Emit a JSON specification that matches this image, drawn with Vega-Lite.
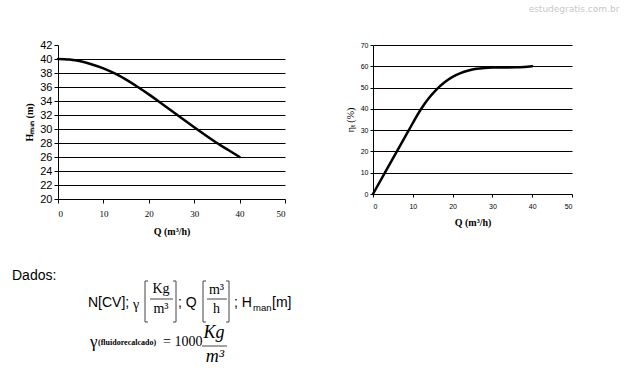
{
  "$schema": "https://vega.github.io/schema/vega-lite/v6.json",
  "background": "white",
  "padding": {"left": 12, "top": 5, "right": 0, "bottom": 0},
  "bounds": "flush",
  "spacing": 88,
  "config": {
    "view": {"stroke": null},
    "axis": {"domainColor": "black", "tickColor": "black", "labelColor": "black", "titleColor": "black", "gridColor": "black", "domainWidth": 1, "tickWidth": 1, "gridWidth": 1}
  },
  "hconcat": [
    {
      "width": 227,
      "height": 154,
      "layer": [
        {
          "data": {"values": [
            {"Q": 0, "H": 40}, {"Q": 2.5, "H": 39.92}, {"Q": 5, "H": 39.67}, {"Q": 7.5, "H": 39.22},
            {"Q": 10, "H": 38.67}, {"Q": 12.5, "H": 37.93}, {"Q": 15, "H": 37.05}, {"Q": 17.5, "H": 36.04},
            {"Q": 20, "H": 34.95}, {"Q": 22.5, "H": 33.8}, {"Q": 25, "H": 32.62}, {"Q": 27.5, "H": 31.43},
            {"Q": 30, "H": 30.25}, {"Q": 32.5, "H": 29.1}, {"Q": 35, "H": 28.0}, {"Q": 37.5, "H": 27.0},
            {"Q": 40, "H": 26}
          ]},
          "mark": {"type": "line", "color": "black", "strokeWidth": 2.5, "interpolate": "natural", "strokeCap": "round"},
          "encoding": {
            "x": {"field": "Q", "type": "quantitative", "scale": {"domain": [0, 50], "nice": false},
              "axis": {"values": [0, 10, 20, 30, 40, 50], "title": "Q (m³/h)", "titleFont": "Liberation Serif", "titleFontWeight": "bold", "titleFontSize": 10, "titlePadding": 8,
                "labelFont": "Liberation Serif", "labelFontSize": 9, "labelPadding": 6, "tickSize": 4, "grid": false}},
            "y": {"field": "H", "type": "quantitative", "scale": {"domain": [20, 42], "nice": false, "zero": false},
              "axis": {"values": [20, 22, 24, 26, 28, 30, 32, 34, 36, 38, 40, 42], "title": "Hₘₐₙ (m)", "titleFont": "Liberation Serif", "titleFontWeight": "bold", "titleFontSize": 10, "titlePadding": 5,
                "labelFont": "Liberation Sans", "labelFontSize": 11, "labelPadding": 2, "tickSize": 4, "grid": true,
                "gridOpacity": {"condition": {"test": "datum.value === 42 || datum.value === 20", "value": 0}, "value": 1}}}
          }
        },
        {
          "layer": [
            {
              "data": {"values": [
                {"label": "Dados:", "u": -4.6, "v": 23.1},
                {"label": "N[CV];", "u": 3.0, "v": 25.8},
                {"label": "; Q", "u": 12.0, "v": 25.8},
                {"label": "; H", "u": 17.6, "v": 25.8},
                {"label": "[m]", "u": 21.4, "v": 25.8}
              ]},
              "mark": {"type": "text", "font": "Liberation Sans", "fontSize": 14, "align": "left", "baseline": "middle", "color": "black"},
              "encoding": {
                "x": {"field": "u", "type": "quantitative", "scale": {"domain": [0, 22.7], "nice": false, "zero": false}, "axis": null},
                "y": {"field": "v", "type": "quantitative", "scale": {"domain": [0, 15.4], "nice": false, "zero": false, "reverse": true}, "axis": null},
                "text": {"field": "label"}
              }
            },
            {
              "data": {"values": [{"label": "man", "u": 19.5, "v": 26.3}]},
              "mark": {"type": "text", "font": "Liberation Sans", "fontSize": 9.5, "align": "left", "baseline": "middle", "color": "black"},
              "encoding": {
                "x": {"field": "u", "type": "quantitative", "axis": null},
                "y": {"field": "v", "type": "quantitative", "axis": null},
                "text": {"field": "label"}
              }
            },
            {
              "data": {"values": [
                {"label": "γ", "u": 7.5, "v": 26.0},
                {"label": "= 1000", "u": 10.5, "v": 29.7}
              ]},
              "mark": {"type": "text", "font": "Liberation Serif", "fontSize": 14, "align": "left", "baseline": "middle", "color": "black"},
              "encoding": {
                "x": {"field": "u", "type": "quantitative", "axis": null},
                "y": {"field": "v", "type": "quantitative", "axis": null},
                "text": {"field": "label"}
              }
            },
            {
              "data": {"values": [
                {"label": "Kg", "u": 10.3, "v": 24.4},
                {"label": "m³", "u": 10.3, "v": 26.4},
                {"label": "m³", "u": 15.85, "v": 24.5},
                {"label": "h", "u": 15.85, "v": 26.4}
              ]},
              "mark": {"type": "text", "font": "Liberation Serif", "fontSize": 14, "align": "center", "baseline": "middle", "color": "black"},
              "encoding": {
                "x": {"field": "u", "type": "quantitative", "axis": null},
                "y": {"field": "v", "type": "quantitative", "axis": null},
                "text": {"field": "label"}
              }
            },
            {
              "data": {"values": [{"label": "γ", "u": 3.2, "v": 29.7}]},
              "mark": {"type": "text", "font": "Liberation Serif", "fontSize": 17, "align": "left", "baseline": "middle", "color": "black"},
              "encoding": {
                "x": {"field": "u", "type": "quantitative", "axis": null},
                "y": {"field": "v", "type": "quantitative", "axis": null},
                "text": {"field": "label"}
              }
            },
            {
              "data": {"values": [{"label": "(fluidorecalcado)", "u": 4.0, "v": 29.8}]},
              "mark": {"type": "text", "font": "Liberation Serif", "fontSize": 8, "fontWeight": "bold", "align": "left", "baseline": "middle", "color": "black"},
              "encoding": {
                "x": {"field": "u", "type": "quantitative", "axis": null},
                "y": {"field": "v", "type": "quantitative", "axis": null},
                "text": {"field": "label"}
              }
            },
            {
              "data": {"values": [
                {"label": "Kg", "u": 15.6, "v": 28.8},
                {"label": "m³", "u": 15.7, "v": 31.2}
              ]},
              "mark": {"type": "text", "font": "Liberation Serif", "fontSize": 18, "fontStyle": "italic", "align": "center", "baseline": "middle", "color": "black"},
              "encoding": {
                "x": {"field": "u", "type": "quantitative", "axis": null},
                "y": {"field": "v", "type": "quantitative", "axis": null},
                "text": {"field": "label"}
              }
            },
            {
              "data": {"values": [{"label": "estudegratis.com.br", "u": 51.6, "v": -3.6}]},
              "mark": {"type": "text", "font": "DejaVu Sans", "fontSize": 9, "align": "center", "baseline": "middle", "color": "#c8c8c8"},
              "encoding": {
                "x": {"field": "u", "type": "quantitative", "axis": null},
                "y": {"field": "v", "type": "quantitative", "axis": null},
                "text": {"field": "label"}
              }
            },
            {
              "data": {"values": [
                {"u": 9.2, "u2": 11.5, "v": 25.4, "v2": 25.4},
                {"u": 14.9, "u2": 16.9, "v": 25.4, "v2": 25.4},
                {"u": 14.4, "u2": 16.9, "v": 30.1, "v2": 30.1},
                {"u": 8.7, "u2": 8.7, "v": 23.6, "v2": 27.7},
                {"u": 8.7, "u2": 9.0, "v": 23.6, "v2": 23.6},
                {"u": 8.7, "u2": 9.0, "v": 27.7, "v2": 27.7},
                {"u": 11.8, "u2": 11.8, "v": 23.6, "v2": 27.7},
                {"u": 11.5, "u2": 11.8, "v": 23.6, "v2": 23.6},
                {"u": 11.5, "u2": 11.8, "v": 27.7, "v2": 27.7},
                {"u": 14.5, "u2": 14.5, "v": 23.6, "v2": 27.7},
                {"u": 14.5, "u2": 14.8, "v": 23.6, "v2": 23.6},
                {"u": 14.5, "u2": 14.8, "v": 27.7, "v2": 27.7},
                {"u": 17.1, "u2": 17.1, "v": 23.6, "v2": 27.7},
                {"u": 16.8, "u2": 17.1, "v": 23.6, "v2": 23.6},
                {"u": 16.8, "u2": 17.1, "v": 27.7, "v2": 27.7}
              ]},
              "mark": {"type": "rule", "color": "#444444", "strokeWidth": 1},
              "encoding": {
                "x": {"field": "u", "type": "quantitative", "axis": null},
                "x2": {"field": "u2"},
                "y": {"field": "v", "type": "quantitative", "axis": null},
                "y2": {"field": "v2"}
              }
            }
          ]
        }
      ],
      "resolve": {"scale": {"x": "independent", "y": "independent"}}
    },
    {
      "width": 199,
      "height": 149,
      "data": {"values": [
        {"Q": 0, "E": 0}, {"Q": 3, "E": 10}, {"Q": 6, "E": 20}, {"Q": 9, "E": 30},
        {"Q": 12, "E": 39.7}, {"Q": 14, "E": 45}, {"Q": 16, "E": 49.2}, {"Q": 18, "E": 52.5},
        {"Q": 20, "E": 55}, {"Q": 22, "E": 56.8}, {"Q": 24, "E": 58}, {"Q": 26, "E": 58.8},
        {"Q": 28, "E": 59.2}, {"Q": 30, "E": 59.4}, {"Q": 33, "E": 59.4}, {"Q": 36, "E": 59.5},
        {"Q": 38, "E": 59.7}, {"Q": 40, "E": 60}
      ]},
      "mark": {"type": "line", "color": "black", "strokeWidth": 2.5, "interpolate": "monotone", "strokeCap": "round"},
      "encoding": {
        "x": {"field": "Q", "type": "quantitative", "scale": {"domain": [0, 50], "nice": false},
          "axis": {"values": [0, 10, 20, 30, 40, 50], "title": "Q (m³/h)", "titleFont": "Liberation Serif", "titleFontWeight": "bold", "titleFontSize": 10, "titlePadding": 8,
            "labelFont": "Liberation Sans", "labelFontSize": 7, "labelPadding": 5, "tickSize": 3, "grid": false}},
        "y": {"field": "E", "type": "quantitative", "scale": {"domain": [0, 70], "nice": false},
          "axis": {"values": [0, 10, 20, 30, 40, 50, 60, 70], "title": "ηₜ (%)", "titleFont": "Liberation Serif", "titleFontWeight": "normal", "titleFontSize": 10, "titlePadding": 5,
            "labelFont": "Liberation Sans", "labelFontSize": 7, "labelPadding": 2, "tickSize": 3, "grid": true,
            "gridOpacity": {"condition": {"test": "datum.value === 0", "value": 0}, "value": 1}}}
      }
    }
  ]
}
